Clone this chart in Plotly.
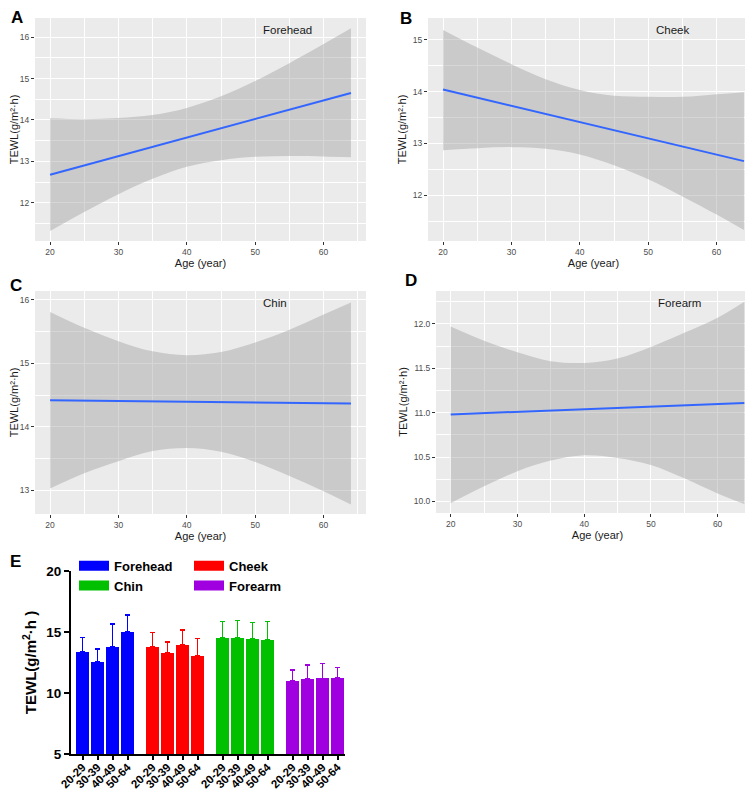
import plotly.graph_objects as go

# ---------------- data: regression panels (A-D) ----------------
ages = [20, 25, 30, 35, 40, 45, 50, 55, 60, 64]
fit_x = [20, 64]

forehead_fit = [12.68, 14.65]
forehead_upper = [14.04, 14.02, 14.05, 14.12, 14.29, 14.57, 14.94, 15.37, 15.83, 16.21]
forehead_lower = [11.32, 11.78, 12.21, 12.58, 12.87, 13.03, 13.11, 13.13, 13.12, 13.10]

cheek_fit = [14.04, 12.66]
cheek_upper = [15.19, 14.85, 14.53, 14.24, 14.03, 13.92, 13.90, 13.90, 13.95, 13.99]
cheek_lower = [12.87, 12.91, 12.93, 12.90, 12.79, 12.58, 12.31, 11.98, 11.63, 11.33]

chin_fit = [14.42, 14.37]
chin_upper = [15.81, 15.56, 15.35, 15.19, 15.13, 15.18, 15.33, 15.53, 15.77, 15.96]
chin_lower = [13.03, 13.27, 13.46, 13.62, 13.67, 13.61, 13.45, 13.23, 12.99, 12.78]

forearm_fit = [10.98, 11.11]
forearm_upper = [11.97, 11.81, 11.68, 11.58, 11.56, 11.61, 11.74, 11.90, 12.07, 12.25]
forearm_lower = [9.98, 10.17, 10.34, 10.46, 10.52, 10.49, 10.41, 10.26, 10.09, 9.97]

# ---------------- data: bar panel (E) ----------------
age_groups = ["20-29", "30-39", "40-49", "50-64"]
sites = ["Forehead", "Cheek", "Chin", "Forearm"]
forehead_mean = [13.35, 12.53, 13.81, 15.04]
forehead_sd = [1.20, 1.06, 1.85, 1.36]
cheek_mean = [13.81, 13.26, 13.92, 13.07]
cheek_sd = [1.14, 0.93, 1.25, 1.39]
chin_mean = [14.49, 14.49, 14.44, 14.38]
chin_sd = [1.36, 1.45, 1.33, 1.47]
forearm_mean = [11.00, 11.14, 11.19, 11.25]
forearm_sd = [0.90, 1.14, 1.23, 0.84]

# ---------------- styling ----------------
W, H = 753, 790
def px_x(p): return p / W
def px_y(p): return 1 - p / H

panel_bg = "#EBEBEB"
band_color = "rgba(153,153,153,0.4)"
line_color = "#3366FF"
tick_font = dict(family="Liberation Sans, Arial, sans-serif", size=8.5, color="#4D4D4D")
title_font = dict(family="Liberation Sans, Arial, sans-serif", size=11, color="#1A1A1A")
bold_font = "Liberation Sans, Arial, sans-serif"

fig = go.Figure()

panels = [
    ("Forehead", forehead_fit, forehead_upper, forehead_lower, "x", "y"),
    ("Cheek", cheek_fit, cheek_upper, cheek_lower, "x2", "y2"),
    ("Chin", chin_fit, chin_upper, chin_lower, "x3", "y3"),
    ("Forearm", forearm_fit, forearm_upper, forearm_lower, "x4", "y4"),
]

for name, fit, up, lo, xa, ya in panels:
    fig.add_trace(go.Scatter(x=ages, y=lo, mode="lines", line=dict(width=0, shape="spline"),
                             xaxis=xa, yaxis=ya, showlegend=False, hoverinfo="skip"))
    fig.add_trace(go.Scatter(x=ages, y=up, mode="lines", line=dict(width=0, shape="spline"),
                             fill="tonexty", fillcolor=band_color,
                             xaxis=xa, yaxis=ya, showlegend=False, hoverinfo="skip"))
    fig.add_trace(go.Scatter(x=fit_x, y=fit, mode="lines", line=dict(color=line_color, width=2),
                             xaxis=xa, yaxis=ya, showlegend=False))

# bar panel
bar_colors = ["#0000FF", "#FF0000", "#00C000", "#A000E0"]
means = [forehead_mean, cheek_mean, chin_mean, forearm_mean]
sds = [forehead_sd, cheek_sd, chin_sd, forearm_sd]
group_gap = 0.667
tickvals, ticktext = [], []
for g, (site, m, s, c) in enumerate(zip(sites, means, sds, bar_colors)):
    xs = [g * (len(age_groups) + group_gap) + i for i in range(len(age_groups))]
    tickvals += xs
    ticktext += age_groups
    fig.add_trace(go.Bar(x=xs, y=m, marker=dict(color=c, line=dict(width=0)), width=0.82,
                         error_y=dict(type="data", array=s, arrayminus=[0] * len(s), symmetric=False,
                                      color=c, thickness=1.5, width=2.5),
                         xaxis="x5", yaxis="y5", showlegend=False))

# legend entries (2x2 layout via four legends)
legend_names = ["legend", "legend2", "legend3", "legend4"]
for site, c, lg in zip(sites, bar_colors, legend_names):
    fig.add_trace(go.Scatter(x=[None], y=[None], mode="lines", name=site,
                             line=dict(color=c, width=11), xaxis="x5", yaxis="y5",
                             legend=lg, showlegend=True))

leg_font = dict(family=bold_font, size=13, color="black", weight="bold")
col_x = [66, 181]
row_y = [557.7, 577.5]
leg_pos = [(col_x[0], row_y[0]), (col_x[1], row_y[0]), (col_x[0], row_y[1]), (col_x[1], row_y[1])]
legend_layout = {}
for lg, (lx, ly) in zip(legend_names, leg_pos):
    legend_layout[lg] = dict(x=px_x(lx), y=px_y(ly), xanchor="left", yanchor="middle",
                             font=leg_font, bgcolor="rgba(0,0,0,0)", borderwidth=0,
                             itemwidth=30, tracegroupgap=0)

# domains (pixels)
dom = {
    "A": ((27, 358), (10, 233)),
    "B": ((420, 751), (10, 233)),
    "C": ((27, 358), (283, 506)),
    "D": ((428, 751), (283, 505)),
    "E": ((63, 337), (563, 746)),
}
def xd(k): return [px_x(dom[k][0][0]), px_x(dom[k][0][1])]
def yd(k): return [px_y(dom[k][1][1]), px_y(dom[k][1][0])]

def gg_x(key, anchor):
    return dict(domain=xd(key), anchor=anchor, range=[17.8, 66.2], tickvals=[20, 30, 40, 50, 60],
                ticks="outside", ticklen=3, tickwidth=1, tickcolor="#333333",
                showgrid=True, gridcolor="white", gridwidth=1, zeroline=False, showline=False,
                minor=dict(dtick=5, tick0=0, showgrid=True, gridcolor="white", gridwidth=0.5),
                tickfont=tick_font, title=dict(text="Age (year)", font=title_font, standoff=1),
                automargin=False)

def gg_y(key, anchor, rng, tv, mdt, fmt=None):
    d = dict(domain=yd(key), anchor=anchor, range=rng, tickvals=tv,
             ticks="outside", ticklen=3, tickwidth=1, tickcolor="#333333",
             showgrid=True, gridcolor="white", gridwidth=1, zeroline=False, showline=False,
             minor=dict(dtick=mdt, tick0=0, showgrid=True, gridcolor="white", gridwidth=0.5),
             tickfont=tick_font, title=dict(text="TEWL(g/m²·h)", font=title_font, standoff=3),
             automargin=False)
    if fmt:
        d["tickformat"] = fmt
    return d

fig.update_layout(
    width=W, height=H, margin=dict(l=0, r=0, t=0, b=0),
    paper_bgcolor="white", plot_bgcolor="white",
    xaxis=gg_x("A", "y"),
    yaxis=gg_y("A", "x", [11.08, 16.46], [12, 13, 14, 15, 16], 0.5),
    xaxis2=gg_x("B", "y2"),
    yaxis2=gg_y("B", "x2", [11.12, 15.42], [12, 13, 14, 15], 0.5),
    xaxis3=gg_x("C", "y3"),
    yaxis3=gg_y("C", "x3", [12.63, 16.14], [13, 14, 15, 16], 0.5),
    xaxis4=gg_x("D", "y4"),
    yaxis4=gg_y("D", "x4", [9.87, 12.37], [10.0, 10.5, 11.0, 11.5, 12.0], 0.25, ".1f"),
    xaxis5=dict(domain=xd("E"), anchor="y5", range=[-0.77, 17.5], tickvals=tickvals, ticktext=ticktext,
                tickangle=-45, ticks="outside", ticklen=4, tickwidth=2, tickcolor="black",
                ticklabelstandoff=-4,
                showline=True, linecolor="black", linewidth=2, showgrid=False, zeroline=False,
                tickfont=dict(family=bold_font, size=11.5, color="black", weight="bold"),
                automargin=False),
    yaxis5=dict(domain=yd("E"), anchor="x5", range=[5, 20], tickvals=[5, 10, 15, 20],
                ticks="outside", ticklen=5, tickwidth=2, tickcolor="black",
                showline=True, linecolor="black", linewidth=2, showgrid=False, zeroline=False,
                tickfont=dict(family=bold_font, size=13.5, color="black", weight="bold"),
                title=dict(text="TEWL(g/m<sup>2</sup>·h )",
                           font=dict(family=bold_font, size=15, color="black", weight="bold"), standoff=6),
                automargin=False),
    bargap=0, barmode="overlay",
    **legend_layout,
)

# grey ggplot panel backgrounds
for xa, ya in [("x", "y"), ("x2", "y2"), ("x3", "y3"), ("x4", "y4")]:
    fig.add_shape(type="rect", xref=f"{xa} domain", yref=f"{ya} domain", x0=0, x1=1, y0=0, y1=1,
                  fillcolor=panel_bg, line=dict(width=0), layer="below")

# site labels inside panels
for (name, _, _, _, xa, ya) in panels:
    fig.add_annotation(text=name, x=50.8, y=0.948, xref=xa, yref=f"{ya} domain",
                       xanchor="left", yanchor="middle", showarrow=False,
                       font=dict(family="Liberation Sans, Arial, sans-serif", size=11.5, color="#1A1A1A"))

# panel letters
for letter, (lx, ly) in zip("ABCDE", [(8.5, 10), (398, 11), (7.5, 277), (402.5, 272), (7.5, 553)]):
    fig.add_annotation(text=f"<b>{letter}</b>", x=px_x(lx), y=px_y(ly), xref="paper", yref="paper",
                       xanchor="center", yanchor="middle", showarrow=False,
                       font=dict(family=bold_font, size=17, color="black"))

fig.write_html("out.html")
